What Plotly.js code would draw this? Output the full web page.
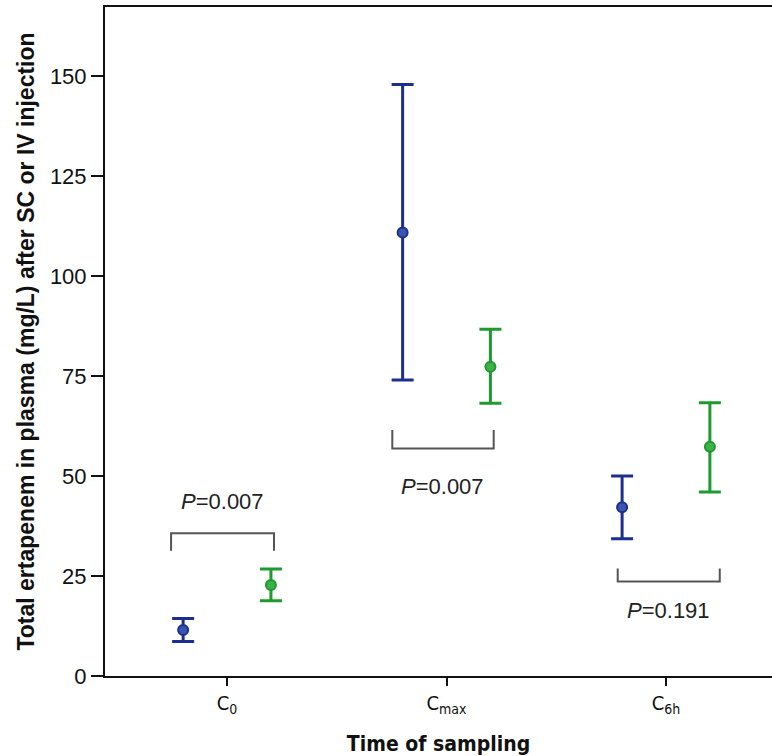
<!DOCTYPE html>
<html>
<head>
<meta charset="utf-8">
<script src="https://cdn.plot.ly/plotly-3.0.1.min.js"></script>
<style>html,body{margin:0;padding:0;background:#fff;}#chart{width:772px;height:756px;}</style>
</head>
<body>
<div id="chart"></div>
<script>
// Categories and tick labels
const categories = ["C0", "Cmax", "C6h"];
const tickLabels = ["C<sub>0</sub>", "C<sub>max</sub>", "C<sub>6h</sub>"];
const yTicks = [0, 25, 50, 75, 100, 125, 150];

// Series 1 (blue) means and error bounds
const blueMean = [11.5, 110.9, 42.2];
const blueUpper = [14.4, 147.9, 50.0];
const blueLower = [8.6, 74.0, 34.3];

// Series 2 (green) means and error bounds
const greenMean = [22.75, 77.3, 57.3];
const greenUpper = [26.75, 86.7, 68.3];
const greenLower = [18.8, 68.2, 46.0];

// Significance annotations
const pLabels = ["<i>P</i>=0.007", "<i>P</i>=0.007", "<i>P</i>=0.191"];
const bracketLevel = [35.7, 56.9, 23.6];
const bracketTip = [31.3, 61.5, 26.9];
const pLabelY = [43.6, 47.3, 16.5];

const offset = 0.2;
const idx = categories.map((_, i) => i);

function trace(means, upper, lower, dx, lineColor, fillColor) {
  return {
    type: "scatter",
    mode: "markers",
    x: idx.map(i => i + dx),
    y: means,
    error_y: {
      type: "data",
      symmetric: false,
      array: upper.map((u, i) => u - means[i]),
      arrayminus: means.map((m, i) => m - lower[i]),
      color: lineColor,
      thickness: 3,
      width: 11
    },
    marker: {symbol: "circle", size: 10, color: fillColor, line: {color: lineColor, width: 2}},
    hoverinfo: "skip",
    showlegend: false
  };
}

const data = [
  trace(blueMean, blueUpper, blueLower, -offset, "#1c2f8c", "#3a55b0"),
  trace(greenMean, greenUpper, greenLower, offset, "#1f9a2e", "#3cb04a")
];

const bracketL = [-0.255, -0.247, -0.22];
const bracketR = [0.214, 0.215, 0.245];
const shapes = [];
const annotations = [];
idx.forEach(i => {
  const x0 = i + bracketL[i], x1 = i + bracketR[i];
  shapes.push({
    type: "path", xref: "x", yref: "y",
    path: `M ${x0},${bracketTip[i]} L ${x0},${bracketLevel[i]} L ${x1},${bracketLevel[i]} L ${x1},${bracketTip[i]}`,
    line: {color: "#555555", width: 2}
  });
  annotations.push({
    x: i + (i === 2 ? 0.01 : -0.02), y: pLabelY[i], xref: "x", yref: "y",
    text: pLabels[i], showarrow: false,
    font: {family: "Liberation Sans", size: 22, color: "#222"}
  });
});

const layout = {
  width: 772, height: 756,
  margin: {l: 105, r: 0, t: 7, b: 80},
  paper_bgcolor: "#fff", plot_bgcolor: "#fff",
  font: {family: "Liberation Sans", size: 22, color: "#111"},
  showlegend: false,
  xaxis: {
    range: [-0.556, 2.483],
    tickmode: "array",
    tickvals: idx, ticktext: tickLabels,
    showgrid: false, zeroline: false,
    showline: true, linecolor: "#111", linewidth: 2, mirror: true,
    ticks: "outside", ticklen: 8, tickwidth: 2, tickcolor: "#111",
    tickfont: {family: "DejaVu Sans Condensed", size: 20, color: "#111"},
    title: {text: "<b>Time of sampling</b>", standoff: 22,
      font: {family: "DejaVu Sans Condensed", size: 21, color: "#111"}}
  },
  yaxis: {
    range: [0, 167.25],
    tickmode: "array",
    tickvals: yTicks,
    ticktext: yTicks.map(String),
    showgrid: false, zeroline: false,
    showline: true, linecolor: "#111", linewidth: 2,
    ticks: "outside", ticklen: 12, tickwidth: 2, tickcolor: "#111",
    tickfont: {family: "Liberation Sans", size: 22, color: "#111"},
    title: {text: "<b>Total ertapenem in plasma (mg/L) after SC or IV injection</b>", standoff: 9,
      font: {family: "Liberation Sans", size: 23, color: "#111"}}
  },
  shapes: shapes,
  annotations: annotations
};

Plotly.newPlot("chart", data, layout, {displayModeBar: false, staticPlot: true});
</script>
</body>
</html>
